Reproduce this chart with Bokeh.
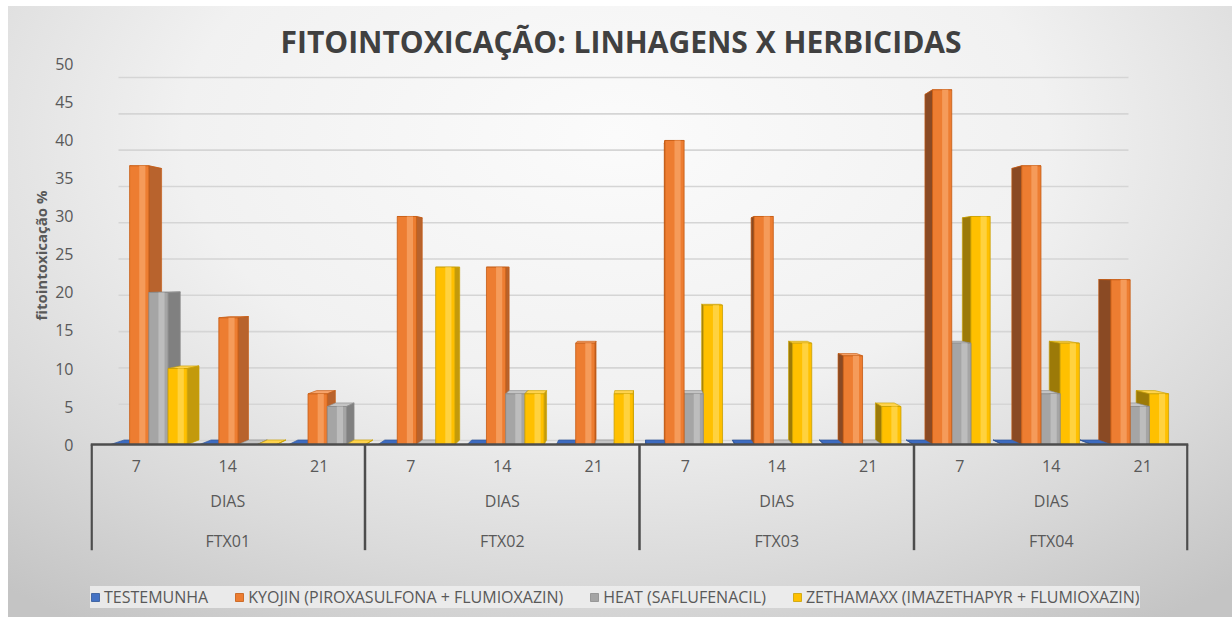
from bokeh.plotting import figure
from bokeh.models import (FactorRange, Range1d, ColumnDataSource, FixedTicker,
                          CategoricalAxis, Legend, LegendItem, Title)
from bokeh.embed import file_html
from bokeh.resources import INLINE

# ---------------- data ----------------
linhagens = ["FTX01", "FTX02", "FTX03", "FTX04"]
dias = ["7", "14", "21"]
series_names = ["TESTEMUNHA",
                "KYOJIN (PIROXASULFONA + FLUMIOXAZIN)",
                "HEAT (SAFLUFENACIL)",
                "ZETHAMAXX (IMAZETHAPYR + FLUMIOXAZIN)"]
# order: FTX01 7/14/21, FTX02 7/14/21, FTX03 7/14/21, FTX04 7/14/21
testemunha = [0, 0, 0, 0, 0, 0, 0, 0, 0, 0, 0, 0]
kyojin = [36.67, 16.67, 6.67, 30.0, 23.33, 13.33, 40.0, 30.0, 11.67, 46.67, 36.67, 21.67]
heat = [20.0, 0, 5.0, 0, 6.67, 0, 6.67, 0, 0, 13.33, 6.67, 5.0]
zethamaxx = [10.0, 0, 0, 23.33, 6.67, 6.67, 18.33, 13.33, 5.0, 30.0, 13.33, 6.67]
y_ticks = [0, 5, 10, 15, 20, 25, 30, 35, 40, 45, 50]

title_text = "FITOINTOXICAÇÃO: LINHAGENS X HERBICIDAS"
y_label = "fitointoxicação %"

# ---------------- style ----------------
FONT = "Open Sans"
TXT = "#595959"
front_c = ["#4472c4", "#ed7d31", "#a5a5a5", "#ffc000"]
light_c = ["#5b8ad6", "#f59b5a", "#bdbdbd", "#ffd23f"]
rside_c = ["#2f5597", "#b8632d", "#808080", "#c39a0c"]
lside_c = ["#22417a", "#8a4a24", "#666666", "#9c7a08"]
top_c = ["#3d6bc0", "#f7a46b", "#c4c4c4", "#ffd34d"]
edge_c = ["#2f5597", "#c55a11", "#8c8c8c", "#c9a000"]

# pseudo-3D perspective parameters (synthetic x units / value units)
VX, VY = 6.0, 23.0
S_DEPTH, A_SHIFT = 0.026, 0.025
BAR_W, BASE = 0.21, -0.42
GY0, GK = 0.53, 0.955          # back-wall gridline placement
WALL_L, WALL_R = -0.194, -0.156  # back-wall extent (offsets from first/last factor)

factors = [(l, "DIAS", d) for l in linhagens for d in dias]
values = [testemunha, kyojin, heat, zethamaxx]

x_range = FactorRange(factors=factors, factor_padding=0, subgroup_padding=0,
                      group_padding=0, range_padding=0)

p = figure(width=1232, height=617, x_range=x_range, y_range=Range1d(-22.76, 50.26),
           output_backend="svg", toolbar_location=None, x_axis_location=None,
           title=title_text, min_border_left=90, min_border_right=44,
           min_border_top=62, min_border_bottom=0)
p.border_fill_color = None
p.background_fill_color = None
p.outline_line_color = None
p.styles = {"background": (
    "linear-gradient(#ffffff, #ffffff) 0 0 / 100% 6px no-repeat, "
    "linear-gradient(#ffffff, #ffffff) 0 0 / 8px 100% no-repeat, "
    "radial-gradient(ellipse 78% 95% at 50% 22%, #fbfbfb 0%, #f1f1f1 45%, #dadada 75%, #c4c4c4 100%)")}
p.grid.visible = False

p.title.text_font = FONT
p.title.text_font_size = "30px"
p.title.text_font_style = "bold"
p.title.text_color = "#404040"
p.title.align = "left"
p.title.offset = 190
p.title.standoff = 2

# y axis
p.yaxis.ticker = FixedTicker(ticks=y_ticks)
p.yaxis.axis_line_color = None
p.yaxis.major_tick_line_color = None
p.yaxis.minor_tick_line_color = None
p.yaxis.major_tick_out = 0
p.yaxis.major_tick_in = 0
p.yaxis.minor_tick_out = 0
p.yaxis.major_label_standoff = 17
p.yaxis.major_label_text_font = FONT
p.yaxis.major_label_text_font_size = "16px"
p.yaxis.major_label_text_color = TXT
p.add_layout(Title(text=y_label, align="right", offset=128, text_font=FONT,
                   text_font_size="15px", text_font_style="bold",
                   text_color=TXT, standoff=4), "left")

# back-wall gridlines
n = len(y_ticks)
grid_src = ColumnDataSource(dict(
    x0=[(factors[0][0], factors[0][1], factors[0][2], WALL_L)] * n,
    x1=[(factors[-1][0], factors[-1][1], factors[-1][2], WALL_R)] * n,
    y=[GY0 + GK * v for v in y_ticks]))
p.segment(x0="x0", y0="y", x1="x1", y1="y", source=grid_src,
          line_color="#d5d5d5", line_width=1.6)

# bars as pseudo-3D polygons
xs, ys, fills, lines, lalphas = [], [], [], [], []


def add(f, pts, fill, line, la):
    xs.append([(f[0], f[1], f[2], o) for o, _ in pts])
    ys.append([v for _, v in pts])
    fills.append(fill)
    lines.append(line)
    lalphas.append(la)


bars = []
for c, f in enumerate(factors):
    xc = c + 0.5
    for i in range(len(values)):
        h = values[i][c]
        ol = BASE + BAR_W * i + A_SHIFT * (VX - xc)
        orr = ol + BAR_W
        mid = xc + ol + BAR_W / 2
        bars.append((abs(mid - VX), c, f, i, h, ol, orr, xc))
bars.sort(key=lambda b: (-b[0], b[1]))

legend_idx = {}
for _, c, f, i, h, ol, orr, xc in bars:
    dxl = S_DEPTH * (VX - (xc + ol))
    dxr = S_DEPTH * (VX - (xc + orr))
    dy0 = S_DEPTH * (VY - 0)
    dyh = S_DEPTH * (VY - h)
    add(f, [(ol, h), (orr, h), (orr + dxr, h + dyh), (ol + dxl, h + dyh)],
        top_c[i], edge_c[i], 0.8)
    if xc + orr < VX:
        add(f, [(orr, 0), (orr + dxr, dy0), (orr + dxr, h + dyh), (orr, h)],
            rside_c[i], edge_c[i], 0.8)
    elif xc + ol > VX:
        add(f, [(ol, 0), (ol + dxl, dy0), (ol + dxl, h + dyh), (ol, h)],
            lside_c[i], edge_c[i], 0.8)
    if c == 0:
        legend_idx[i] = len(xs)
    add(f, [(ol, 0), (orr, 0), (orr, h), (ol, h)], front_c[i], edge_c[i], 1.0)
    if h > 0:
        w = orr - ol
        add(f, [(ol + 0.5 * w, 0), (ol + 0.82 * w, 0), (ol + 0.82 * w, h), (ol + 0.5 * w, h)],
            light_c[i], edge_c[i], 0.0)

bar_src = ColumnDataSource(dict(xs=xs, ys=ys, fill=fills, line=lines, la=lalphas))
bars_r = p.patches(xs="xs", ys="ys", source=bar_src, fill_color="fill",
                   line_color="line", line_alpha="la", line_width=0.8)

# group separators below the axis
sep_x = [(l, "DIAS", dias[0], -0.5 + (0.012 if k == 0 else 0)) for k, l in enumerate(linhagens)]
sep_x.append((linhagens[-1], "DIAS", dias[-1], 0.488))
sep_src = ColumnDataSource(dict(x=sep_x, y0=[0] * len(sep_x), y1=[-13.9] * len(sep_x)))
p.segment(x0="x", y0="y0", x1="x", y1="y1", source=sep_src,
          line_color="#4d4d4d", line_width=2.5)

# categorical x axis at value 0
xaxis = CategoricalAxis(fixed_location=0)
xaxis.axis_line_color = "#4d4d4d"
xaxis.axis_line_width = 2.5
xaxis.major_tick_line_color = None
xaxis.minor_tick_line_color = None
xaxis.major_tick_out = 0
xaxis.major_tick_in = 0
xaxis.separator_line_color = None
xaxis.major_label_standoff = 15
xaxis.major_label_text_font = FONT
xaxis.major_label_text_font_size = "16px"
xaxis.major_label_text_color = TXT
xaxis.subgroup_text_font = FONT
xaxis.subgroup_text_font_size = "16px"
xaxis.subgroup_text_font_style = "normal"
xaxis.subgroup_text_color = TXT
xaxis.group_text_font = FONT
xaxis.group_text_font_size = "16px"
xaxis.group_text_font_style = "normal"
xaxis.group_text_color = TXT
p.add_layout(xaxis, "below")

legend = Legend(items=[LegendItem(label=series_names[i], renderers=[bars_r], index=legend_idx[i])
                       for i in range(len(series_names))],
                orientation="horizontal", location=(0, 9),
                glyph_width=10, glyph_height=10, label_standoff=4, spacing=26,
                padding=6, margin=0,
                label_text_font=FONT, label_text_font_size="16px", label_text_color=TXT,
                background_fill_color="#eeeeee", background_fill_alpha=0.85,
                border_line_color=None)
p.add_layout(legend)

open("out.html", "w").write(file_html(p, INLINE))
